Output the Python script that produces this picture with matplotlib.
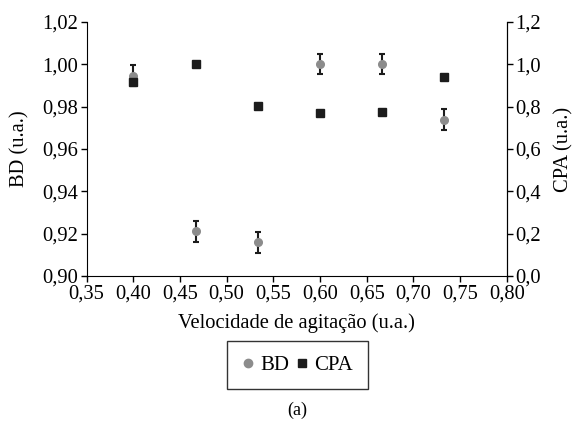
import matplotlib
matplotlib.use('Agg')
import matplotlib.pyplot as plt
from matplotlib.ticker import FuncFormatter, MultipleLocator
from matplotlib.lines import Line2D

plt.rcParams['font.family'] = 'serif'
plt.rcParams['font.serif'] = ['Liberation Serif', 'DejaVu Serif']
plt.rcParams['font.size'] = 14.8

# === 数据 ===
velocidade = [0.40, 0.4667, 0.5333, 0.60, 0.6667, 0.7333]
bd = [0.9947, 0.9211, 0.9159, 1.0000, 1.0000, 0.9738]
bd_err = [0.005, 0.005, 0.005, 0.0048, 0.0048, 0.005]
cpa = [0.917, 1.000, 0.804, 0.771, 0.777, 0.942]

cor_bd = '#8c8c8c'
cor_cpa = '#1c1c1c'

fig = plt.figure(figsize=(5.81, 4.23), dpi=100)
ax = fig.add_axes([0.1492, 0.3475, 0.7229, 0.6005])
ax2 = ax.twinx()

# BD com barras de erro (eixo esquerdo)
ax.errorbar(velocidade, bd, yerr=bd_err, fmt='none', ecolor='#1c1c1c',
            elinewidth=1.5, capsize=2.2, capthick=1.5, zorder=3)
ax.plot(velocidade, bd, 'o', color=cor_bd, markersize=5.5, zorder=4)

# CPA (eixo direito)
ax2.plot(velocidade, cpa, 's', color=cor_cpa, markersize=5.8, zorder=4)

ax.set_xlim(0.35, 0.80)
ax.set_ylim(0.90, 1.02)
ax2.set_ylim(0.0, 1.2)
ax.xaxis.set_major_locator(MultipleLocator(0.05))
ax.yaxis.set_major_locator(MultipleLocator(0.02))
ax2.yaxis.set_major_locator(MultipleLocator(0.2))

virgula2 = FuncFormatter(lambda v, p: f'{v:.2f}'.replace('.', ','))
virgula1 = FuncFormatter(lambda v, p: f'{v:.1f}'.replace('.', ','))
ax.xaxis.set_major_formatter(virgula2)
ax.yaxis.set_major_formatter(virgula2)
ax2.yaxis.set_major_formatter(virgula1)

for a in (ax, ax2):
    a.spines['top'].set_visible(False)
    a.tick_params(direction='out', length=4, width=1, pad=2)
ax2.spines['left'].set_visible(False)
ax2.spines['bottom'].set_visible(False)

ax.set_xlabel('Velocidade de agitação (u.a.)', labelpad=7)
ax.set_ylabel('BD (u.a.)', labelpad=9)
ax2.set_ylabel('CPA (u.a.)', labelpad=10)

# Legenda abaixo do gráfico
handles = [
    Line2D([], [], marker='o', linestyle='none', color=cor_bd, markersize=6),
    Line2D([], [], marker='s', linestyle='none', color=cor_cpa, markersize=6),
]
leg = fig.legend(handles, ['BD', 'CPA'], loc='center', bbox_to_anchor=(0.512, 0.137),
                 ncol=2, frameon=True, fancybox=False, edgecolor='black',
                 handlelength=0.6, handletextpad=0.3, columnspacing=0.3,
                 borderpad=0.7, fontsize=15)
leg.get_frame().set_linewidth(1.0)

fig.text(0.512, 0.031, '(a)', ha='center', va='center', fontsize=13)

plt.savefig('out.png', dpi=100)
